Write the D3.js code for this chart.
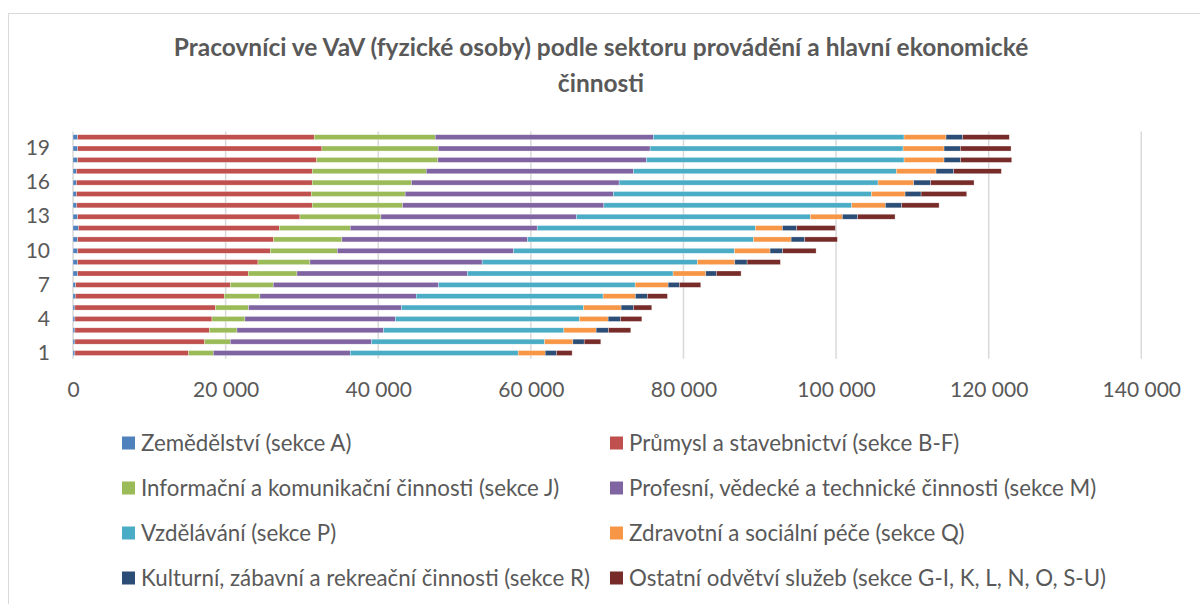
<!DOCTYPE html>
<html>
<head>
<meta charset="utf-8">
<script src="https://cdn.jsdelivr.net/npm/d3@7"></script>
<style>
  body { margin: 0; background: #fff; }
  text { font-family: Lato, "Open Sans", sans-serif; }
</style>
</head>
<body>
<div id="chart"></div>
<script>
const categories = d3.range(1, 21).map(String);

const seriesNames = [
  'Zemědělství (sekce A)',
  'Průmysl a stavebnictví (sekce B-F)',
  'Informační a komunikační činnosti (sekce J)',
  'Profesní, vědecké a technické činnosti (sekce M)',
  'Vzdělávání (sekce P)',
  'Zdravotní a sociální péče (sekce Q)',
  'Kulturní, zábavní a rekreační činnosti (sekce R)',
  'Ostatní odvětví služeb (sekce G-I, K, L, N, O, S-U)'
];

const zemedelstvi = [250, 250, 250, 250, 250, 300, 350, 600, 600, 600, 600, 700, 600, 500, 450, 450, 450, 600, 600, 600];
const prumysl = [14900, 16990, 17610, 17960, 18430, 19520, 20260, 22370, 23640, 25250, 25680, 26330, 29140, 30850, 30770, 30900, 30900, 31320, 32020, 31010];
const informacni = [3230, 3370, 3630, 4320, 4330, 4680, 5630, 6380, 6810, 8780, 8960, 9300, 10610, 11830, 12310, 13010, 14940, 15900, 15240, 15860];
const profesni = [17950, 18510, 19200, 19730, 20040, 20480, 21660, 22350, 22570, 23090, 24320, 24500, 25630, 26390, 27300, 27210, 27160, 27330, 27770, 28590];
const vzdelavani = [22010, 22670, 23640, 24110, 23850, 24490, 25770, 26940, 28210, 28960, 29610, 28600, 30650, 32490, 33800, 33930, 34450, 33760, 33150, 32850];
const zdravotni = [3540, 3720, 4230, 3760, 4930, 4240, 4320, 4290, 4900, 4670, 4940, 3540, 4200, 4400, 4410, 4680, 5200, 5240, 5370, 5500];
const kulturni = [1480, 1480, 1610, 1610, 1620, 1570, 1480, 1390, 1610, 1650, 1790, 1880, 2010, 2150, 2100, 2220, 2320, 2180, 2140, 2190];
const ostatni = [2050, 2180, 2930, 2810, 2400, 2620, 2800, 3230, 4360, 4380, 4270, 5060, 4890, 4890, 5980, 5680, 6240, 6690, 6640, 6100];

const xTicks = [0, 20000, 40000, 60000, 80000, 100000, 120000, 140000];
const yTickLabels = ['1', '4', '7', '10', '13', '16', '19'];

const colors = ['#4F81BD', '#C0504D', '#9BBB59', '#8064A2', '#4BACC6', '#F79646', '#2C4D75', '#772C2A'];

const allSeries = [zemedelstvi, prumysl, informacni, profesni, vzdelavani, zdravotni, kulturni, ostatni];

// build rows for the stack
const rows = categories.map((c, i) => {
  const r = { cat: c };
  seriesNames.forEach((s, j) => { r[s] = allSeries[j][i]; });
  return r;
});

const width = 1200;
const height = 604;
const margin = { top: 131.5, bottom: 245.3, left: 73, right: 58.7 };

const svg = d3.select('#chart')
  .append('svg')
  .attr('width', width)
  .attr('height', height);

// chart frame
svg.append('rect')
  .attr('x', 8.5).attr('y', 13.5)
  .attr('width', 1200).attr('height', 700)
  .attr('fill', 'none')
  .attr('stroke', '#d9d9d9');

const x = d3.scaleLinear()
  .domain([0, 140000])
  .range([margin.left, width - margin.right]);

const y = d3.scaleBand()
  .domain(categories)
  .range([height - margin.bottom, margin.top])
  .paddingInner(0.56)
  .paddingOuter(0.28);

const csFormat = d3.formatLocale({ decimal: ',', thousands: ' ', grouping: [3], currency: ['', ' Kč'] }).format(',d');

// gridlines
svg.append('g')
  .selectAll('line')
  .data(xTicks)
  .join('line')
    .attr('x1', d => x(d)).attr('x2', d => x(d))
    .attr('y1', margin.top).attr('y2', height - margin.bottom)
    .attr('stroke', '#d9d9d9')
    .attr('stroke-width', 1.5);

const stack = d3.stack().keys(seriesNames);
const stacked = stack(rows);

svg.append('g')
  .selectAll('g')
  .data(stacked)
  .join('g')
    .attr('fill', (d, i) => colors[i])
  .selectAll('rect')
  .data(d => d)
  .join('rect')
    .attr('x', d => x(d[0]))
    .attr('y', d => y(d.data.cat))
    .attr('width', d => x(d[1]) - x(d[0]))
    .attr('height', y.bandwidth())
    .attr('stroke', '#fff')
    .attr('stroke-width', 0.5)
    .attr('stroke-opacity', 0.6);

function xAxis(g) {
  g.attr('transform', `translate(0,${height - margin.bottom})`)
    .call(d3.axisBottom(x).tickValues(xTicks).tickFormat(csFormat).tickSize(0).tickPadding(23))
    .call(g => g.select('.domain').remove())
    .selectAll('text')
      .attr('font-family', 'Lato, sans-serif')
      .attr('font-size', '21px')
      .attr('fill', '#595959');
}

function yAxis(g) {
  g.attr('transform', `translate(${margin.left}, 0)`)
    .call(d3.axisLeft(y).tickValues(yTickLabels).tickSize(0).tickPadding(23))
    .call(g => g.select('.domain').remove())
    .selectAll('text')
      .attr('font-family', 'Lato, sans-serif')
      .attr('font-size', '21px')
      .attr('fill', '#595959');
}

svg.append('g').call(xAxis);
svg.append('g').call(yAxis);

// title
const title = svg.append('text')
  .attr('text-anchor', 'middle')
  .attr('font-size', '24.5px')
  .attr('font-weight', 'bold')
  .attr('fill', '#595959');
title.append('tspan').attr('x', 601).attr('y', 56)
  .text('Pracovníci ve VaV (fyzické osoby) podle sektoru provádění a hlavní ekonomické');
title.append('tspan').attr('x', 601).attr('y', 92)
  .text('činnosti');

// legend, two columns
const legendCols = [122, 610];
const legendRows = [443, 488, 533, 578];

const legend = svg.append('g')
  .selectAll('g')
  .data(seriesNames)
  .join('g')
    .attr('transform', (d, i) => `translate(${legendCols[i % 2]},${legendRows[Math.floor(i / 2)]})`);

legend.append('rect')
  .attr('x', 0).attr('y', -6.5)
  .attr('width', 13).attr('height', 13)
  .attr('fill', (d, i) => colors[i]);

legend.append('text')
  .attr('x', 19)
  .attr('dy', '0.35em')
  .attr('font-size', '22.3px')
  .attr('fill', '#595959')
  .text(d => d);
</script>
</body>
</html>
